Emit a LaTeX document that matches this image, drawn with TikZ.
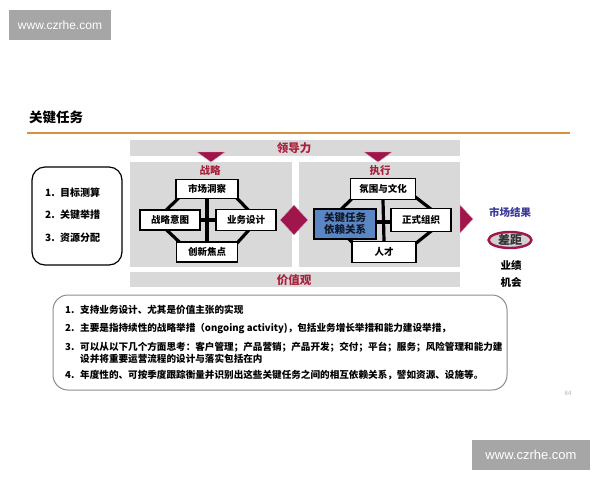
\documentclass[tikz,border=0pt]{standalone}
\usepackage{fontspec}
\setmainfont{Noto Sans CJK SC}
\newfontfamily\wmfont{Liberation Sans}
\usetikzlibrary{shapes.geometric}
\definecolor{maroon}{HTML}{A0154B}
\definecolor{redtxt}{HTML}{A8203C}
\definecolor{panelgray}{HTML}{D9D9D9}
\definecolor{orangeline}{HTML}{D4913E}
\definecolor{bluebox}{HTML}{5A86C4}
\definecolor{navytxt}{HTML}{101828}
\definecolor{mktblue}{HTML}{3D3A99}
\definecolor{wmgray}{HTML}{A6A6A6}
\pgfdeclarelayer{bottom}
\pgfdeclarelayer{lines}
\pgfsetlayers{bottom,lines,main}
\tikzset{
  wm/.style={fill=wmgray, text=white, inner sep=0pt, font=\wmfont},
  bartxt/.style={text=redtxt, font=\bfseries\fontsize{11.5}{13}\selectfont, inner sep=0pt},
  headtxt/.style={text=redtxt, font=\bfseries\fontsize{10.5}{12}\selectfont, inner sep=0pt},
  tbox/.style={draw=black, line width=1.3pt, fill=white, inner sep=0pt,
    font=\bfseries\fontsize{9.5}{11}\selectfont},
  hexline/.style={line width=3.2pt, black, line join=miter},
  crossline/.style={line width=3.2pt, black},
  markfill/.style={fill=maroon, draw=maroon!40, line width=0.4pt},
  listtxt/.style={anchor=west, inner sep=0pt, font=\bfseries\fontsize{10}{12}\selectfont},
  btxt/.style={anchor=west, inner sep=0pt, font=\bfseries\fontsize{9.6}{11.5}\selectfont},
  rtxt/.style={inner sep=0pt, font=\bfseries\fontsize{10.5}{12}\selectfont}
}
\begin{document}
\begin{tikzpicture}[x=1pt,y=-1pt]
\useasboundingbox (0,0) rectangle (600,480);

% bars and panels
\begin{pgfonlayer}{bottom}
\fill[white] (0,0) rectangle (600,480);
\fill[panelgray] (130,140) rectangle (460,156);
\fill[panelgray] (130,272) rectangle (460,287);
\fill[panelgray] (130,162) rectangle (292,267);
\fill[panelgray] (299,162) rectangle (460,267);
\end{pgfonlayer}

% watermarks
\node[wm, minimum width=102pt, minimum height=30pt, font=\wmfont\fontsize{12}{14}\selectfont] (wm1) at (60,25) {www.czrhe.com};
\node[wm, minimum width=118pt, minimum height=30pt, font=\wmfont\fontsize{13}{15}\selectfont] (wm2) at (531,455) {www.czrhe.com};

% title
\node[anchor=west, inner sep=0pt, font=\bfseries\fontsize{13.5}{15}\selectfont] (title) at (29,117) {关键任务};
\coordinate (ol1) at (27,133);
\coordinate (ol2) at (570,133);
\draw[orangeline, line width=1.6pt] (ol1) -- (ol2);

\node[bartxt] (ldl) at (294,148) {领导力};
\node[bartxt] (jzg) at (294,280) {价值观};

% down triangles
\fill[markfill] (197,152) -- (225,152) -- (211,162) -- cycle;
\fill[markfill] (364,152) -- (392,152) -- (378,162) -- cycle;
\node[headtxt] (zl) at (210,171) {战略};
\node[headtxt] (zx) at (380,171) {执行};

% left panel boxes
\node[tbox, minimum width=62pt, minimum height=19pt] (scdc) at (207,189) {市场洞察};
\node[tbox, minimum width=60pt, minimum height=20pt] (zlyt) at (170,220) {战略意图};
\node[tbox, minimum width=60pt, minimum height=21pt] (ywsj) at (246,220) {业务设计};
\node[tbox, minimum width=61pt, minimum height=20pt] (cxjd) at (207,252) {创新焦点};

% right panel boxes
\node[tbox, minimum width=65pt, minimum height=21pt] (fwwh) at (383,189) {氛围与文化};
\node[tbox, fill=bluebox, text=navytxt, minimum width=62pt, minimum height=30pt, align=center,
  font=\bfseries\fontsize{10.5}{12}\selectfont] (gjrw) at (345,224) {关键任务\\依赖关系};
\node[tbox, minimum width=60pt, minimum height=23pt] (zszz) at (421,220) {正式组织};
\node[tbox, minimum width=64pt, minimum height=21pt] (rc) at (384,252) {人才};

% hexagon frames and crosses
\coordinate (la) at (188,189);
\coordinate (lb) at (156,220);
\coordinate (lc) at (190,252);
\coordinate (ld) at (229,252);
\coordinate (le) at (258,220);
\coordinate (lf) at (228,189);
\coordinate (ra) at (362,189);
\coordinate (rb) at (330,220);
\coordinate (rc1) at (362,252);
\coordinate (rd) at (405,252);
\coordinate (re) at (445,220);
\coordinate (rf) at (405,189);
\begin{pgfonlayer}{lines}
\draw[hexline] (la) -- (lb) -- (lc) -- (ld) -- (le) -- (lf) -- cycle;
\draw[crossline] (scdc.south) -- (cxjd.north);
\draw[crossline] (zlyt.east) -- (ywsj.west);
\draw[hexline] (ra) -- (rb) -- (rc1) -- (rd) -- (re) -- (rf) -- cycle;
\draw[crossline] (fwwh.south) -- (rc.north);
\draw[crossline] (gjrw.east |- 0,222) -- (zszz.west |- 0,222);
\end{pgfonlayer}

% diamond and right arrow
\node[diamond, markfill, minimum width=28pt, minimum height=30pt, inner sep=0pt] (dm) at (294,220) {};
\fill[markfill] (460,205) -- (473,219) -- (460,233) -- cycle;

% market results
\node[rtxt, text=mktblue] (scjg) at (510,212) {市场结果};
\node[ellipse, draw=maroon, line width=2.4pt, fill=black!18, minimum width=43pt, minimum height=16pt,
  inner sep=0pt, text=black!80, font=\bfseries\fontsize{12}{13}\selectfont] (cj) at (510,240) {差距};
\node[rtxt] (yj) at (511,265) {业绩};
\node[rtxt] (jh) at (511,282) {机会};

% left list box
\draw[black, line width=1.2pt, rounded corners=13pt] (32,167) rectangle (122,265);
\node[listtxt] (l1) at (45,193) {1.~ 目标测算};
\node[listtxt] (l2) at (45,215) {2.~ 关键举措};
\node[listtxt] (l3) at (45,238) {3.~ 资源分配};

% bottom box
\draw[black!45, line width=1pt, rounded corners=15pt] (53,295) rectangle (507,390);
\node[btxt] (n1) at (65,310) {1.};
\node[btxt] (b1) at (80,310) {支持业务设计、尤其是价值主张的实现};
\node[btxt] (n2) at (65,328) {2.};
\node[btxt] (b2) at (80,328) {主要是指持续性的战略举措（ongoing activity)，包括业务增长举措和能力建设举措，};
\node[btxt] (n3) at (65,347) {3.};
\node[btxt] (b3) at (80,347) {可以从以下几个方面思考：客户管理；产品营销；产品开发；交付；平台；服务；风险管理和能力建};
\node[btxt] (b3b) at (80,359) {设并将重要运营流程的设计与落实包括在内};
\node[btxt] (n4) at (65,375) {4.};
\node[btxt] (b4) at (80,375) {年度性的、可按季度跟踪衡量并识别出这些关键任务之间的相互依赖关系，譬如资源、设施等。};

\node[inner sep=0pt, text=black!30, font=\fontsize{6}{7}\selectfont] (pg) at (568,393) {84};
\end{tikzpicture}
\end{document}
